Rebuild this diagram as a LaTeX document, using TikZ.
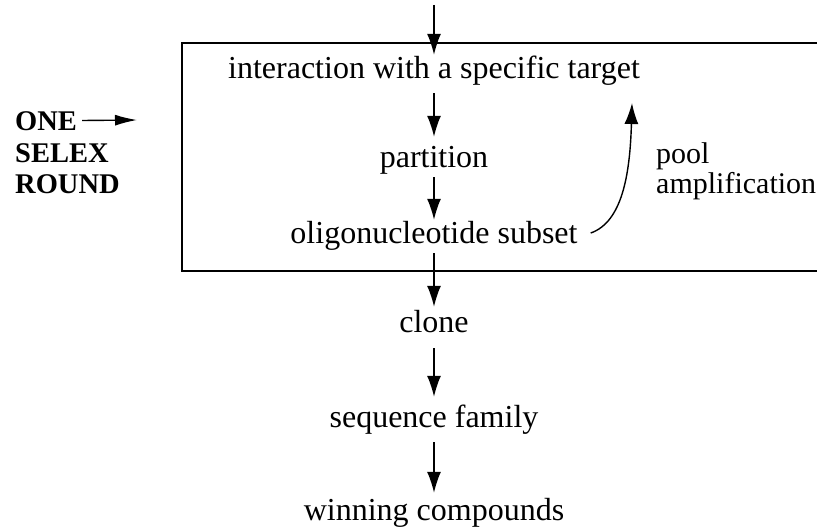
\documentclass[tikz,border=0pt]{standalone}
\usepackage{fontspec}
\setmainfont{Liberation Serif}
\usetikzlibrary{arrows.meta}
\begin{document}
\begin{tikzpicture}[x=1pt,y=-1pt,
  stage/.style={font=\fontsize{32}{36}\selectfont, inner sep=0pt,
    text height=23pt, text depth=8pt, anchor=base},
  note/.style={font=\fontsize{30}{34}\selectfont, inner sep=0pt,
    text height=22pt, text depth=7pt, anchor=base west},
  tag/.style={font=\fontsize{28.5}{31}\selectfont\bfseries, inner sep=0pt,
    text height=19pt, text depth=0pt, anchor=base west},
  flow/.style={line width=1.4pt, -{Latex[length=21pt,width=14pt]}},
  frame/.style={line width=2pt}]
\useasboundingbox (0,0) rectangle (817,527);
\clip (0,0) rectangle (817,527);

% the SELEX round frame (open to the right)
\draw[frame] (840,43) -- (182,43) -- (182,271) -- (840,271);

% steps
\node[stage] (inter) at (434,78)  {interaction with a specific target};
\node[stage] (part)  at (434,167) {partition};
\node[stage] (oligo) at (434,243) {oligonucleotide subset};
\node[stage] (clone) at (434,332) {clone};
\node[stage] (seq)   at (434,427) {sequence family};
\node[stage] (win)   at (434,520) {winning compounds};

% side labels
\node[note] (pool) at (656,163) {pool};
\node[note] (ampl) at (656,193) {amplification};
\node[tag] (one)   at (15,130) {ONE};
\node[tag] (selex) at (15,162) {SELEX};
\node[tag] (round) at (15,193) {ROUND};

% connectors
\coordinate (feed) at (434,5);
\coordinate (back) at (632,103);
\coordinate (roundin) at (137,120);
\draw[flow] (feed) -- (inter.north);
\draw[flow, shorten <=7pt, shorten >=7pt] (inter) -- (part);
\draw[flow, shorten <=2pt] (part) -- (oligo);
\draw[flow, shorten <=2pt, shorten >=2pt] (oligo) -- (clone);
\draw[flow, shorten <=8pt, shorten >=7pt] (clone) -- (seq);
\draw[flow, shorten <=7pt, shorten >=4pt] (seq) -- (win);
\draw[flow] ([xshift=13pt,yshift=2.5pt]oligo.east)
  .. controls (622,222) and (630,175) .. (back);
\draw[line width=1.4pt, -{Latex[length=22pt,width=11pt]}]
  ([xshift=5pt]one.east) -- (roundin);
\end{tikzpicture}
\end{document}
